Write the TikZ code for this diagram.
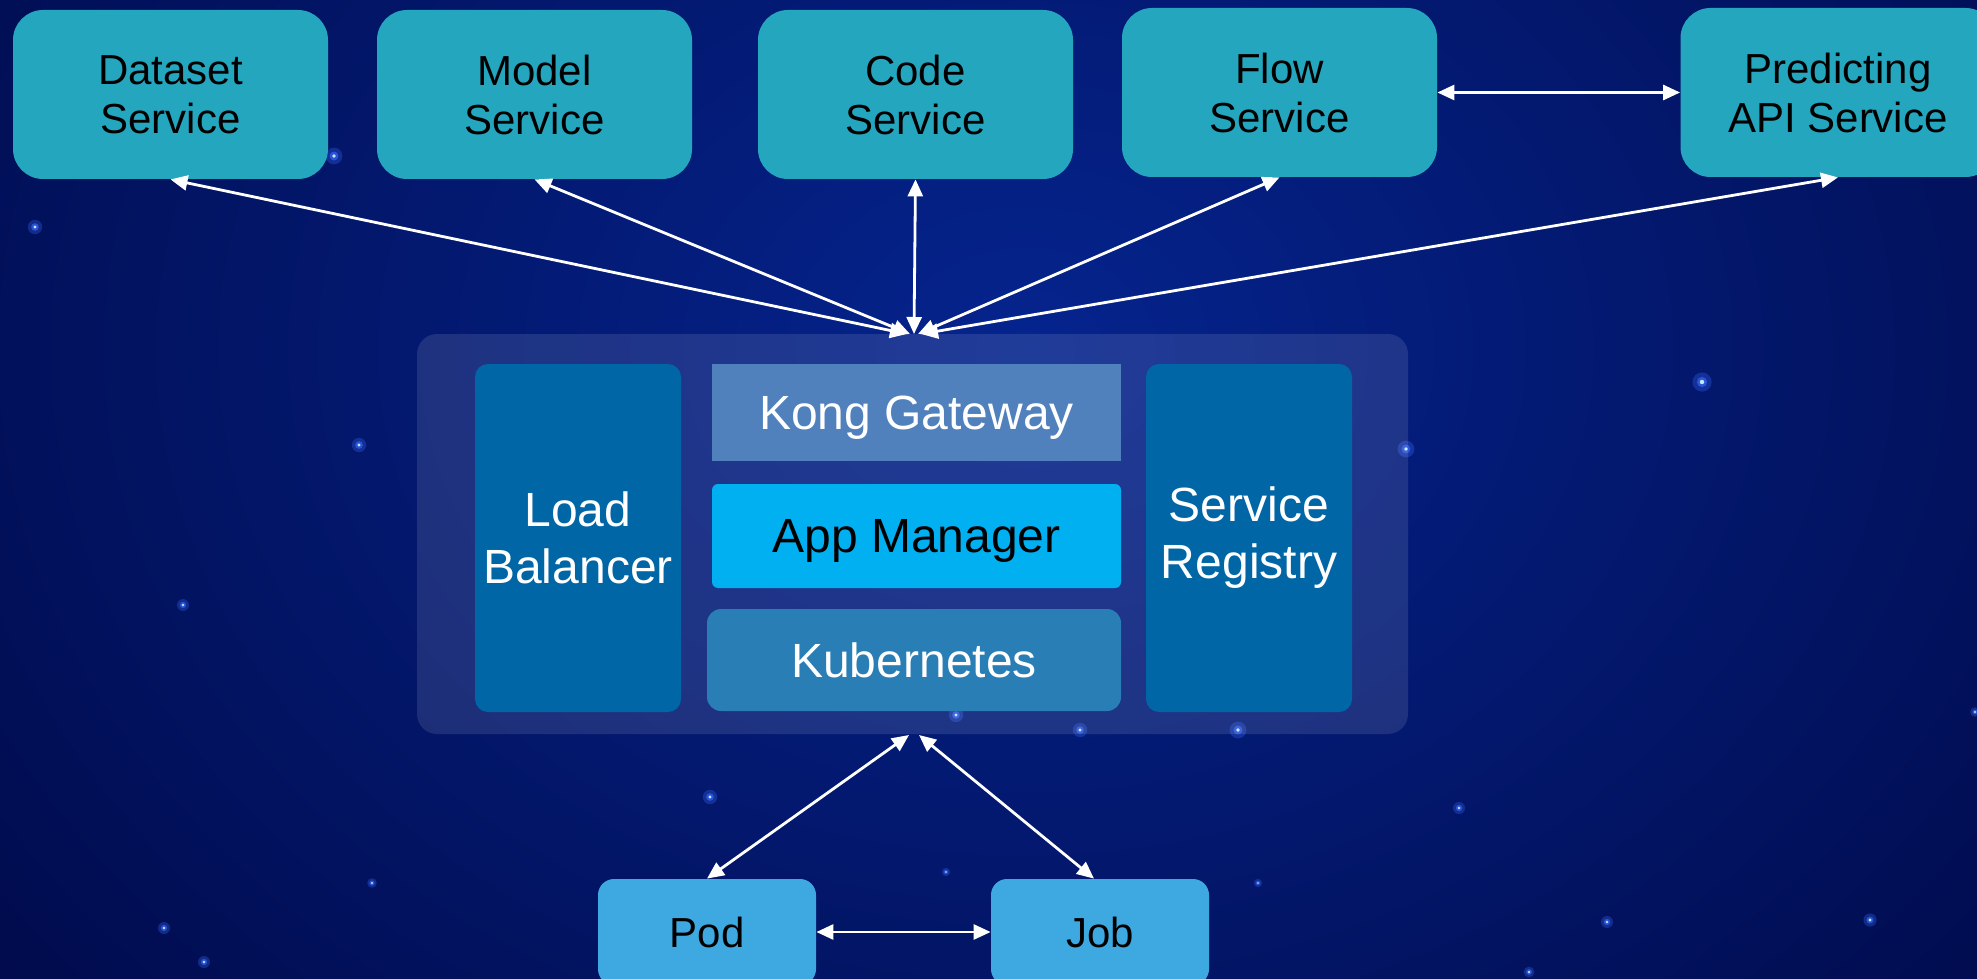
\documentclass[tikz,border=0pt]{standalone}
\usepackage{fontspec}
\setmainfont{Liberation Sans}
\usetikzlibrary{arrows.meta}
\definecolor{bgdark}{HTML}{000844}
\definecolor{bgmid}{HTML}{05248E}
\definecolor{svc}{HTML}{24A6BE}
\definecolor{lbc}{HTML}{0066A6}
\definecolor{kgc}{HTML}{5081BD}
\definecolor{amc}{HTML}{00B0F0}
\definecolor{k8c}{HTML}{2A7EB6}
\definecolor{podc}{HTML}{3EA9E0}
\definecolor{starc}{HTML}{3A6CFF}
\tikzset{
  svcbox/.style={fill=svc, rounded corners=15pt, inner sep=0pt, align=center,
    minimum width=157.5pt, minimum height=84.5pt, text=black,
    font=\fontsize{21pt}{24.5pt}\selectfont},
  colbox/.style={fill=lbc, rounded corners=6.5pt, inner sep=0pt, align=center,
    minimum width=103pt, minimum height=174pt, text=white,
    font=\fontsize{24pt}{28.5pt}\selectfont},
  midbox/.style={inner sep=0pt, align=center, minimum width=204.5pt,
    text depth=0pt, font=\fontsize{24pt}{28.5pt}\selectfont},
  podbox/.style={fill=podc, rounded corners=8pt, inner sep=0pt, align=center,
    minimum width=109pt, minimum height=53pt, text=black,
    font=\fontsize{21pt}{24.5pt}\selectfont},
  dbl/.style={draw=white, line width=1.4pt,
    {Triangle[length=8.5pt,width=7.5pt]}-{Triangle[length=8.5pt,width=7.5pt]}},
  glow/.style={fill=starc, opacity=0.3},
  core/.style={fill=white!75!cyan}
}
\newcommand{\mystar}[2]{%
  \fill[glow] (#1) circle (#2*3pt);
  \fill[starc, opacity=0.6] (#1) circle (#2*1.6pt);
  \fill[core] (#1) circle (#2*0.7pt);}
\begin{document}
\begin{tikzpicture}[x=0.5pt, y=-0.5pt]
\useasboundingbox (0,0) rectangle (1977,979);
\clip (0,0) rectangle (1977,979);
% background
\fill[bgdark] (0,0) rectangle (1977,979);
\shade[inner color=bgmid, outer color=bgdark] (-450,-800) rectangle (2500,1500);
% stars
\mystar{35,227}{1.2}
\mystar{334,156}{1.4}
\mystar{359,445}{1.2}
\mystar{183,605}{1.0}
\mystar{710,797}{1.2}
\mystar{1702,382}{1.6}
\mystar{1406,449}{1.4}
\mystar{1459,808}{1.0}
\mystar{1607,922}{1.0}
\mystar{1870,920}{1.1}
\mystar{164,928}{1.0}
\mystar{204,962}{1.0}
\mystar{372,883}{0.8}
\mystar{1258,883}{0.7}
\mystar{946,872}{0.7}
\mystar{1529,972}{0.9}
\mystar{1238,730}{1.4}
\mystar{1080,730}{1.2}
\mystar{956,715}{1.2}
\mystar{1975,712}{0.8}
% top services
\node[svcbox] (ds) at (170.5,94.5) {Dataset\\Service};
\node[svcbox] (md) at (534.5,94.5) {Model\\Service};
\node[svcbox] (cd) at (915.5,94.5) {Code\\Service};
\node[svcbox] (fl) at (1279.5,92.5) {Flow\\Service};
\node[svcbox] (pr) at (1838,92.5) {Predicting\\API Service};
% platform container
\node[fill=white, fill opacity=0.11, rounded corners=10pt, inner sep=0pt,
  minimum width=495.5pt, minimum height=200pt] (plat) at (912.5,534) {};
\node[colbox] (lb) at (578,538) {Load\\Balancer};
\node[colbox] (sr) at (1249,538) {Service\\Registry};
\node[midbox, fill=kgc, text=white, minimum height=48.5pt] (kg) at (916.5,412.5) {Kong Gateway};
\node[midbox, fill=amc, text=black, minimum height=52pt, rounded corners=3pt] (am) at (916.5,536) {App Manager};
\node[midbox, fill=k8c, text=white, minimum height=51pt, minimum width=207pt, rounded corners=7pt] (k8) at (914,660) {Kubernetes};
% bottom
\node[podbox] (pod) at (707,932) {Pod};
\node[podbox] (job) at (1100,932) {Job};
% connector end points on the container
\coordinate (t1) at (907,334);
\coordinate (t2) at (910,334);
\coordinate (t3) at (914,334);
\coordinate (t4) at (918,334);
\coordinate (t5) at (921,334);
\coordinate (b1) at (909,735);
\coordinate (b2) at (919,735);
% connectors
\draw[dbl] (ds.south) -- (t1);
\draw[dbl] (md.south) -- (t2);
\draw[dbl] (cd.south) -- (t3);
\draw[dbl] (fl.south) -- (t4);
\draw[dbl] (pr.south) -- (t5);
\draw[dbl] (fl.east) -- (pr.west);
\draw[dbl] (b1) -- (pod.north);
\draw[dbl] (b2) -- ([xshift=-3pt]job.north);
\draw[dbl] (pod.east) -- (job.west);
\end{tikzpicture}
\end{document}
